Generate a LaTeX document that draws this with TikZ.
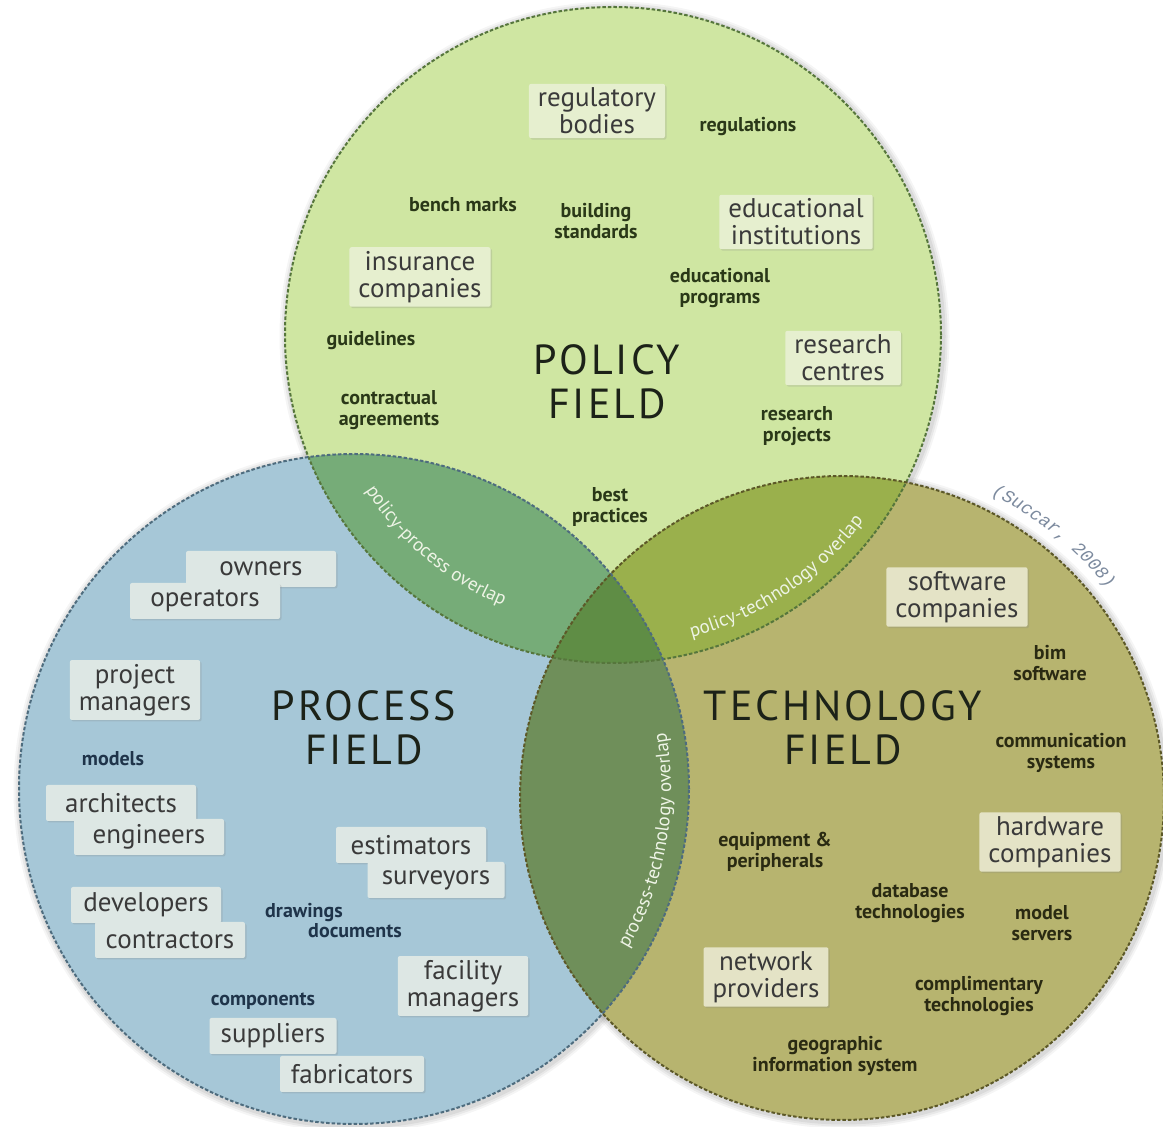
\documentclass[tikz,border=0pt]{standalone}
\usepackage{fontspec}
\setmainfont{PT Sans}
\newfontfamily\bigfont[LetterSpace=7]{PT Sans}
\newfontfamily\succarfont{Liberation Mono}
\usetikzlibrary{calc,shadows,decorations.text}
\definecolor{polfill}{HTML}{CFE6A2}
\definecolor{procfill}{HTML}{A6C7D7}
\definecolor{techfill}{HTML}{B7B46F}
\definecolor{ppfill}{HTML}{76AC78}
\definecolor{ptfill}{HTML}{9AB04C}
\definecolor{rtfill}{HTML}{6F8F5A}
\definecolor{midfill}{HTML}{5F8D45}
\definecolor{poledge}{HTML}{56763C}
\definecolor{procedge}{HTML}{4E6C7E}
\definecolor{techedge}{HTML}{5C5828}
\definecolor{polbox}{HTML}{E6EFCF}
\definecolor{procbox}{HTML}{DDE7E4}
\definecolor{techbox}{HTML}{E4E3C6}
\definecolor{boxtext}{HTML}{3A3A3A}
\definecolor{poltext}{HTML}{2A3818}
\definecolor{proctext}{HTML}{1F344A}
\definecolor{techtext}{HTML}{2A2A12}
\definecolor{fieldtext}{HTML}{1C2218}
\definecolor{ovtext}{HTML}{EEF4E6}
\definecolor{succar}{HTML}{7C8A9E}
\begin{document}
\begin{tikzpicture}[x=1pt,y=1pt,
  boxbase/.style={rounded corners=2pt, inner xsep=9pt, inner ysep=4pt, align=center,
    font=\fontsize{27}{27}\selectfont, text=boxtext,
    drop shadow={opacity=0.22, shadow xshift=1.5pt, shadow yshift=-1.5pt}},
  pbox/.style={boxbase, fill=polbox},
  rbox/.style={boxbase, fill=procbox},
  tbox/.style={boxbase, fill=techbox},
  wide/.style={minimum width=150pt, minimum height=36pt},
  lbl/.style={align=center, inner sep=1pt, font=\fontsize{20}{21}\selectfont\bfseries},
  plbl/.style={lbl, text=poltext},
  rlbl/.style={lbl, text=proctext},
  tlbl/.style={lbl, text=techtext},
  fieldlbl/.style={align=center, font=\bigfont\fontsize{42}{44}\selectfont, text=fieldtext},
  ring/.style={dash pattern=on 3.5pt off 2pt, line width=2pt},
  ovlbl/.style={decorate, decoration={text along path, text align=center,
    text={|\fontsize{19}{19}\selectfont\color{ovtext}|#1}}}
]
\useasboundingbox (0,0) rectangle (1163,1127);
\fill[white] (0,0) rectangle (1163,1127);
\coordinate (pc) at (613,792);
\coordinate (rc) at (354,338);
\coordinate (tc) at (842,329);
% soft shadows
\foreach \d/\o in {7/0.04,5/0.05,3/0.06}{
  \fill[black,opacity=\o] ($(pc)+(1.5,-1.5)$) circle[radius=328+\d];
  \fill[black,opacity=\o] ($(rc)+(1.5,-1.5)$) circle[radius=335+\d];
  \fill[black,opacity=\o] ($(tc)+(1.5,-1.5)$) circle[radius=322+\d];
}
% base fills
\fill[polfill] (pc) circle[radius=328];
\fill[procfill] (rc) circle[radius=335];
\fill[techfill] (tc) circle[radius=322];
% overlaps
\begin{scope}
  \clip (pc) circle[radius=328];
  \fill[ppfill] (rc) circle[radius=335];
  \fill[ptfill] (tc) circle[radius=322];
\end{scope}
\begin{scope}
  \clip (rc) circle[radius=335];
  \fill[rtfill] (tc) circle[radius=322];
  \clip (tc) circle[radius=322];
  \fill[midfill] (pc) circle[radius=328];
\end{scope}
% dashed outlines
\draw[ring, poledge] (pc) circle[radius=328];
\draw[ring, procedge] (rc) circle[radius=335];
\draw[ring, techedge] (tc) circle[radius=322];
% overlap labels along arcs
\path[ovlbl={policy-process overlap}] (pc) ++(195:292) arc[start angle=195, end angle=265, radius=292];
\path[ovlbl={policy-technology overlap}] (pc) ++(268:312) arc[start angle=268, end angle=340, radius=312];
\path[ovlbl={process-technology overlap}] (rc) ++(-46:317) arc[start angle=-46, end angle=26, radius=317];
\path[decorate, decoration={text along path, text align=center,
  text={|\succarfont\itshape\fontsize{18}{18}\selectfont\color{succar}|(Succar, 2008)}}]
  (tc) ++(84:338) arc[start angle=84, end angle=18, radius=338];
% POLICY FIELD
\node[pbox] (regb) at (597,1016) {regulatory\\bodies};
\node[pbox] (edui) at (796,905) {educational\\institutions};
\node[pbox] (insc) at (420,850) {insurance\\companies};
\node[pbox] (resc) at (843,769) {research\\centres};
\node[plbl] (regs) at (748,1000) {regulations};
\node[plbl] (bench) at (463,922) {bench marks};
\node[plbl] (bstd) at (596,906) {building\\standards};
\node[plbl] (edup) at (720,839) {educational\\programs};
\node[plbl] (guid) at (371,786) {guidelines};
\node[plbl] (cont) at (389,717) {contractual\\agreements};
\node[plbl] (resp) at (797,701) {research\\projects};
\node[plbl] (best) at (610,620) {best\\practices};
\node[fieldlbl] (polf) at (607,745) {POLICY\\FIELD};
% PROCESS FIELD
\node[rbox,wide] (own) at (261,558) {owners};
\node[rbox,wide] (oper) at (205,526) {operators};
\node[rbox] (pm) at (135,437) {project\\managers};
\node[fieldlbl] (procf) at (364,399) {PROCESS\\FIELD};
\node[rlbl] (mod) at (113,368) {models};
\node[rbox,wide] (arch) at (121,324) {architects};
\node[rbox,wide] (eng) at (149,290) {engineers};
\node[rbox,wide] (est) at (411,282) {estimators};
\node[rbox,wide,minimum width=137pt] (surv) at (436,247) {surveyors};
\node[rbox,wide] (dev) at (146,222) {developers};
\node[rbox,wide] (contr) at (170,187) {contractors};
\node[rlbl] (draw) at (304,214) {drawings};
\node[rlbl] (docs) at (355,196) {documents};
\node[rbox] (fac) at (463,141) {facility\\managers};
\node[rlbl] (comp) at (263,126) {components};
\node[rbox,wide,minimum width=127pt] (supp) at (273,91) {suppliers};
\node[rbox,wide,minimum width=144pt] (fab) at (352,53) {fabricators};
% TECHNOLOGY FIELD
\node[tbox] (soft) at (957,530) {software\\companies};
\node[tlbl] (bim) at (1050,464) {bim\\software};
\node[fieldlbl] (techf) at (843,399) {TECHNOLOGY\\FIELD};
\node[tlbl] (comm) at (1061,374) {communication\\systems};
\node[tbox] (hard) at (1050,285) {hardware\\companies};
\node[tlbl] (equip) at (775,275) {equipment \&\\peripherals};
\node[tlbl] (db) at (910,224) {database\\technologies};
\node[tlbl] (ms) at (1042,204) {model\\servers};
\node[tbox] (net) at (766,150) {network\\providers};
\node[tlbl] (compl) at (979,131) {complimentary\\technologies};
\node[tlbl] (geo) at (835,71) {geographic\\information system};
\end{tikzpicture}
\end{document}
